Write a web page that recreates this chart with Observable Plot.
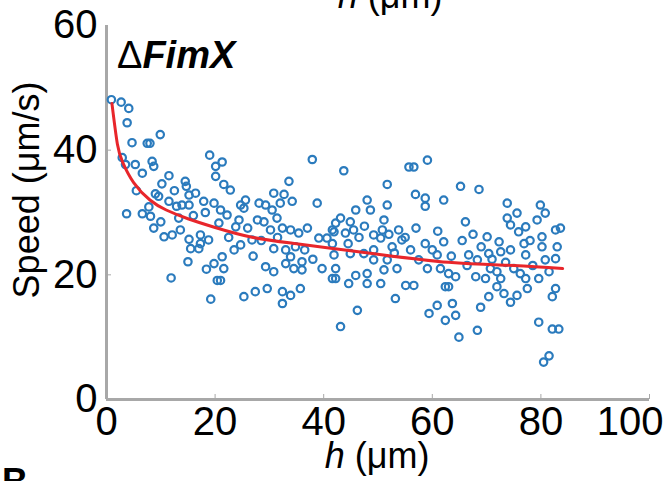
<!DOCTYPE html>
<html><head><meta charset="utf-8">
<script src="https://cdn.jsdelivr.net/npm/d3@7"></script>
<script src="https://cdn.jsdelivr.net/npm/@observablehq/plot@0.6"></script>
<style>body{margin:0;background:#fff;} svg{display:block}</style>
</head><body><div id="chart"></div>
<script>
// measured points: height h (µm) and swimming speed (µm/s)
const hVals = [
0.9,2.7,4.1,3.8,9.9,4.7,7.5,8.0,2.9,3.5,5.3,6.6,8.4,8.7,11.5,10.2,14.5,14.7,16.4,15.2,19.0,20.1,20.1,9.6,11.5,3.7,6.6,7.8,8.1,8.7,10.6,12.1,13.6,12.9,13.9,15.2,13.3,17.9,18.2,19.8,15.2,17.3,17.3,18.8,15.5,17.0,19.8,18.4,15.0,11.9,19.2,20.4,
37.9,33.6,21.3,21.6,22.8,21.0,22.2,20.7,24.7,25.6,25.3,24.4,23.8,28.1,29.3,30.8,32.7,34.2,32.0,30.5,27.8,29.0,30.2,31.4,32.4,33.9,35.4,26.8,24.7,30.8,33.0,33.9,33.0,34.5,36.0,36.0,29.3,30.8,21.3,21.6,21.0,25.3,27.4,29.6,32.4,33.9,35.7,32.4,39.7,39.1,40.6,41.6,38.8,41.6,41.6,
43.7,55.7,56.6,59.1,51.7,56.9,58.7,58.7,62.1,48.0,48.6,45.9,51.7,51.1,44.9,43.1,42.2,41.9,45.5,44.0,49.2,50.8,50.5,53.8,54.4,52.6,56.0,58.7,62.1,60.9,57.5,59.1,61.5,41.9,44.9,47.4,49.2,49.2,51.7,53.5,51.1,42.2,42.2,45.9,44.6,48.0,48.0,50.5,55.1,56.6,53.2,46.2,59.4,60.9,62.4,62.4,43.1,
65.2,68.6,66.1,73.8,75.6,73.8,74.4,77.2,75.9,79.9,80.8,79.3,82.7,83.6,80.2,70.1,72.3,76.9,80.2,70.4,72.6,74.4,77.2,82.7,80.8,66.7,68.3,66.4,70.7,71.9,72.6,76.2,77.2,79.6,68.0,69.8,71.9,70.4,73.2,74.4,75.6,77.5,82.7,82.1,63.0,64.3,63.0,63.7,64.3,68.9,64.9,68.3,79.6,82.1,83.3,81.5,80.5,
22.5,23.5,26.0,27.0,28.5,31.5,34.8,36.5,37.0,38.0,44.5,46.5,47.5,52.0,53.0,55.0,57.0,60.0,61.0,63.5,65.5,67.5,69.0,71.0,73.5,75.0,78.5,81.5,83.0,78.0,5.5,9.0,12.5,16.0,10.0
];
const speedVals = [
48.1,47.7,46.7,44.4,42.5,41.2,41.1,41.1,38.8,37.7,37.7,36.3,38.2,37.4,35.9,34.6,35.0,34.2,33.1,32.8,39.2,37.4,35.8,32.6,31.8,29.8,29.8,30.9,29.4,27.5,26.1,26.4,27.2,31.0,31.2,31.2,29.1,31.8,30.0,31.5,25.7,26.4,25.0,25.6,24.2,24.2,21.8,20.9,22.1,19.5,16.1,19.1,
38.5,35.0,38.1,34.5,33.6,30.4,29.6,28.3,31.2,32.0,30.7,28.8,27.7,31.5,31.2,33.1,32.9,31.8,31.5,30.4,28.8,28.5,27.2,29.1,27.5,27.2,26.7,25.6,24.8,24.2,24.0,22.9,21.8,21.0,22.1,20.8,21.3,20.5,22.9,21.0,19.1,16.5,17.3,17.8,17.3,16.7,17.8,15.4,21.0,25.9,25.9,27.2,31.5,25.0,19.4,
36.7,37.3,37.3,38.4,34.5,32.9,32.3,31.0,32.0,32.0,30.4,30.4,31.2,28.8,28.5,29.1,28.3,26.9,27.2,26.7,26.4,27.2,25.9,27.2,25.6,24.5,24.0,25.0,25.3,23.2,22.4,21.0,21.0,23.2,23.4,23.4,24.0,22.4,22.4,21.0,20.8,21.0,19.4,19.9,18.6,20.2,18.6,18.6,18.3,18.3,16.2,14.3,13.8,15.1,18.1,12.7,11.7,
34.2,33.7,28.5,31.5,29.9,29.1,28.0,27.7,26.9,31.2,29.9,28.8,27.2,27.5,26.1,26.1,25.3,25.0,24.5,23.4,23.7,24.0,23.2,22.6,22.4,23.2,22.4,21.5,21.0,20.5,19.4,20.2,19.4,19.4,19.7,19.4,18.1,16.5,17.0,15.6,16.7,17.8,17.8,16.5,20.2,19.7,18.1,15.4,13.5,14.8,10.0,11.1,12.4,11.3,11.3,7.0,6.0,
26.0,24.0,27.5,23.0,25.5,26.0,24.5,24.0,27.5,22.5,25.0,26.0,27.8,26.5,23.5,26.0,27.5,24.0,27.0,23.0,25.5,26.5,24.5,22.5,22.0,21.0,21.5,20.5,24.5,25.5,33.5,33.0,33.5,29.5,28.5
];
// fitted curve
const fitH =     [1.0, 2.0, 3.0, 5.0, 8.0, 11.0, 15.0, 20.0, 27.0, 35.0, 42.0, 50.0, 63.0, 75.0, 84.0];
const fitSpeed = [47.5, 41.0, 38.0, 34.8, 32.0, 30.4, 29.0, 27.6, 26.0, 25.0, 24.2, 23.3, 22.0, 21.5, 21.0];
const xTicks = [0, 20, 40, 60, 80];
const xLastTick = [100];
const yTicks = [0, 20, 40, 60];
const xInnerTicks = [20, 40, 60, 80, 100];
const yInnerTicks = [20, 40];

const points = hVals.map((h, i) => ({h, s: speedVals[i]}));
const fit = fitH.map((h, i) => ({h, s: fitSpeed[i]}));
const axisGray = "#a8a8a8";

const chart = Plot.plot({
  width: 670, height: 481,
  marginLeft: 106, marginRight: 21, marginTop: 25, marginBottom: 82,
  style: {fontFamily: "'Liberation Sans', Arial, sans-serif", background: "white", overflow: "hidden", color: "black"},
  x: {domain: [0, 100]},
  y: {domain: [0, 60]},
  marks: [
    Plot.ruleY([0], {stroke: axisGray, strokeWidth: 3}),
    Plot.ruleX([0], {stroke: axisGray, strokeWidth: 3}),
    Plot.axisX(xInnerTicks, {tickSize: -5, stroke: axisGray, fill: "none", label: null}),
    Plot.axisY(yInnerTicks, {tickSize: -5, stroke: axisGray, fill: "none", label: null}),
    Plot.axisX(xTicks, {tickSize: 0, tickPadding: 7, fontSize: 40, fill: "black", label: null}),
    Plot.axisX(xLastTick, {tickSize: 0, tickPadding: 7, fontSize: 40, fill: "black", label: null, textAnchor: "end", dx: 14}),
    Plot.axisY(yTicks, {tickSize: 0, tickPadding: 9, fontSize: 40, fill: "black", label: null}),
    Plot.dot(points, {x: "h", y: "s", r: 3.7, stroke: "#2b7bbd", strokeWidth: 2.2, fill: "none"}),
    Plot.line(fit, {x: "h", y: "s", stroke: "#e8262b", strokeWidth: 3, curve: "natural"})
  ]
});
document.getElementById("chart").appendChild(chart);

const svg = d3.select(chart);
const font = "'Liberation Sans', Arial, sans-serif";
// x-axis title
const xl = svg.append("text").attr("x", 377).attr("y", 468).attr("text-anchor", "middle")
  .attr("font-size", 36).attr("font-family", font).attr("fill", "black");
xl.append("tspan").attr("font-style", "italic").text("h");
xl.append("tspan").text(" (μm)");
// cut-off title of the panel above
const tl = svg.append("text").attr("x", 390).attr("y", 8).attr("text-anchor", "middle")
  .attr("font-size", 36).attr("font-family", font).attr("fill", "black");
tl.append("tspan").attr("font-style", "italic").text("h");
tl.append("tspan").text(" (μm)");
// y-axis title
svg.append("text").attr("transform", "translate(39,190) rotate(-90)").attr("text-anchor", "middle")
  .attr("font-size", 36).attr("font-family", font).attr("fill", "black").text("Speed (μm/s)");
// strain label
const sl = svg.append("text").attr("x", 117).attr("y", 68).attr("text-anchor", "start")
  .attr("font-size", 38).attr("font-family", font).attr("fill", "black");
sl.append("tspan").text("Δ");
sl.append("tspan").attr("font-style", "italic").attr("font-weight", "bold").text("FimX");
// next panel letter (cut off)
svg.append("text").attr("x", 2).attr("y", 494).attr("text-anchor", "start").attr("font-size", 36).attr("font-weight", "bold")
  .attr("font-family", font).attr("fill", "black").text("B");
</script></body></html>
